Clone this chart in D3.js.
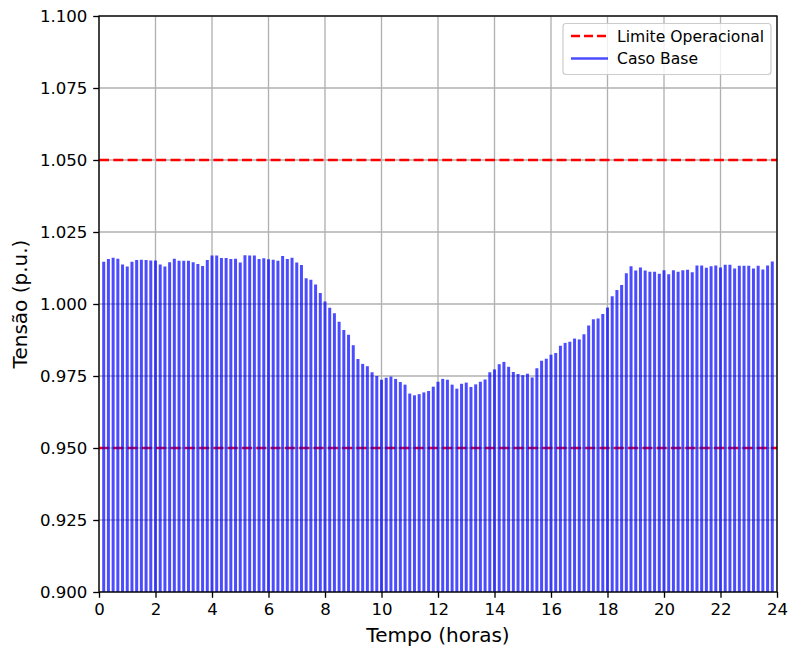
<!DOCTYPE html>
<html>
<head>
<meta charset="utf-8">
<script src="https://cdn.jsdelivr.net/npm/d3@7"></script>
<style>
  body { margin: 0; background: #fff; }
  svg { font-family: "DejaVu Sans", sans-serif; }
</style>
</head>
<body>
<div id="chart"></div>
<script>
// tensão medida a cada 10 min (1..143)
var tensao = [
  1.0147, 1.0156, 1.0161, 1.0157, 1.0137, 1.0130, 1.0147, 1.0153, 1.0154, 1.0153, 1.0151, 1.0151,
  1.0137, 1.0130, 1.0145, 1.0157, 1.0150, 1.0150, 1.0150, 1.0145, 1.0139, 1.0132, 1.0153, 1.0168,
  1.0168, 1.0160, 1.0160, 1.0156, 1.0157, 1.0144, 1.0169, 1.0168, 1.0168, 1.0156, 1.0159, 1.0155,
  1.0154, 1.0150, 1.0167, 1.0156, 1.0161, 1.0144, 1.0135, 1.0089, 1.0084, 1.0068, 1.0038, 1.0009,
  0.9987, 0.9968, 0.9938, 0.9910, 0.9893, 0.9857, 0.9809, 0.9792, 0.9784, 0.9763, 0.9750, 0.9737,
  0.9744, 0.9748, 0.9740, 0.9729, 0.9720, 0.9689, 0.9683, 0.9687, 0.9693, 0.9698, 0.9713, 0.9730,
  0.9740, 0.9737, 0.9720, 0.9706, 0.9723, 0.9727, 0.9712, 0.9721, 0.9730, 0.9738, 0.9763, 0.9773,
  0.9791, 0.9799, 0.9782, 0.9764, 0.9757, 0.9753, 0.9758, 0.9745, 0.9777, 0.9803, 0.9810, 0.9824,
  0.9830, 0.9855, 0.9865, 0.9869, 0.9880, 0.9877, 0.9895, 0.9925, 0.9947, 0.9950, 0.9965, 0.9988,
  1.0027, 1.0049, 1.0066, 1.0107, 1.0131, 1.0116, 1.0127, 1.0116, 1.0112, 1.0112, 1.0105, 1.0117,
  1.0103, 1.0117, 1.0112, 1.0117, 1.0119, 1.0110, 1.0134, 1.0134, 1.0126, 1.0131, 1.0134, 1.0127,
  1.0136, 1.0136, 1.0123, 1.0133, 1.0133, 1.0133, 1.0123, 1.0133, 1.0120, 1.0134, 1.0148
];
var tempo = tensao.map(function(v, i){ return (i + 1) / 6; }); // horas

var limites = [1.05, 0.95];
var xTicks = [0, 2, 4, 6, 8, 10, 12, 14, 16, 18, 20, 22, 24];
var yTicks = [0.900, 0.925, 0.950, 0.975, 1.000, 1.025, 1.050, 1.075, 1.100];
var legenda = ["Limite Operacional", "Caso Base"];

(function(){
var W = 790, H = 653;
var mLeft = 99, mRight = 777, mTop = 16, mBottom = 592;

var svg = d3.select("#chart").append("svg")
    .attr("width", W).attr("height", H);

var x = d3.scaleLinear().domain([0, 24]).range([mLeft, mRight]);
var y = d3.scaleLinear().domain([0.9, 1.1]).range([mBottom, mTop]);

// grid
svg.append("g").selectAll("line")
    .data(xTicks).enter().append("line")
    .attr("x1", function(d){ return x(d); }).attr("x2", function(d){ return x(d); })
    .attr("y1", mTop).attr("y2", mBottom)
    .attr("stroke", "#b0b0b0").attr("stroke-width", 1.33);
svg.append("g").selectAll("line")
    .data(yTicks).enter().append("line")
    .attr("y1", function(d){ return y(d); }).attr("y2", function(d){ return y(d); })
    .attr("x1", mLeft).attr("x2", mRight)
    .attr("stroke", "#b0b0b0").attr("stroke-width", 1.33);

// limites operacionais
svg.append("g").selectAll("line")
    .data(limites).enter().append("line")
    .attr("x1", x(0)).attr("x2", x(24))
    .attr("y1", function(d){ return y(d); }).attr("y2", function(d){ return y(d); })
    .attr("stroke", "#ff0000").attr("stroke-width", 2.7)
    .attr("stroke-dasharray", "10,4.3");

// barras (vlines)
svg.append("g").selectAll("line")
    .data(tensao).enter().append("line")
    .attr("x1", function(d, i){ return x(tempo[i]); })
    .attr("x2", function(d, i){ return x(tempo[i]); })
    .attr("y1", y(0.9))
    .attr("y2", function(d){ return y(d); })
    .attr("stroke", "#0000ff").attr("stroke-opacity", 0.7)
    .attr("stroke-width", 3);

// eixos
var xAxis = d3.axisBottom(x).tickValues(xTicks).tickSize(5.8).tickPadding(5.8)
    .tickFormat(d3.format("d"));
var yAxis = d3.axisLeft(y).tickValues(yTicks).tickSize(5.8).tickPadding(5.8)
    .tickFormat(d3.format(".3f"));

var gx = svg.append("g").attr("transform", "translate(0," + mBottom + ")").call(xAxis);
var gy = svg.append("g").attr("transform", "translate(" + mLeft + ",0)").call(yAxis);
[gx, gy].forEach(function(g){
  g.select(".domain").remove();
  g.selectAll(".tick line").attr("stroke", "#000").attr("stroke-width", 1.33);
  g.selectAll(".tick text").attr("fill", "#000").attr("font-size", "16.6px")
    .attr("font-family", "DejaVu Sans");
});

// moldura
svg.append("rect")
    .attr("x", mLeft).attr("y", mTop)
    .attr("width", mRight - mLeft).attr("height", mBottom - mTop)
    .attr("fill", "none").attr("stroke", "#000").attr("stroke-width", 1.33);

// rótulos
svg.append("text")
    .attr("x", (mLeft + mRight) / 2).attr("y", 642)
    .attr("text-anchor", "middle")
    .attr("font-size", "20px")
    .text("Tempo (horas)");

svg.append("text")
    .attr("transform", "translate(27," + ((mTop + mBottom) / 2) + ") rotate(-90)")
    .attr("text-anchor", "middle")
    .attr("font-size", "20px")
    .text("Tensão (p.u.)");

// legenda
var leg = svg.append("g");
leg.append("rect")
    .attr("x", 563).attr("y", 23.5).attr("width", 208).attr("height", 51)
    .attr("rx", 3).attr("fill", "#fff").attr("fill-opacity", 0.8)
    .attr("stroke", "#cccccc").attr("stroke-width", 1.2);
leg.append("line")
    .attr("x1", 571).attr("x2", 608).attr("y1", 36).attr("y2", 36)
    .attr("stroke", "#ff0000").attr("stroke-width", 2.7)
    .attr("stroke-dasharray", "9,4");
leg.append("line")
    .attr("x1", 571).attr("x2", 608).attr("y1", 58.5).attr("y2", 58.5)
    .attr("stroke", "#0000ff").attr("stroke-opacity", 0.7)
    .attr("stroke-width", 2.7);
leg.selectAll("text")
    .data(legenda).enter().append("text")
    .attr("x", 617)
    .attr("y", function(d, i){ return 41.5 + i * 22.5; })
    .attr("font-size", "15.6px")
    .text(function(d){ return d; });
})();
</script>
</body>
</html>
